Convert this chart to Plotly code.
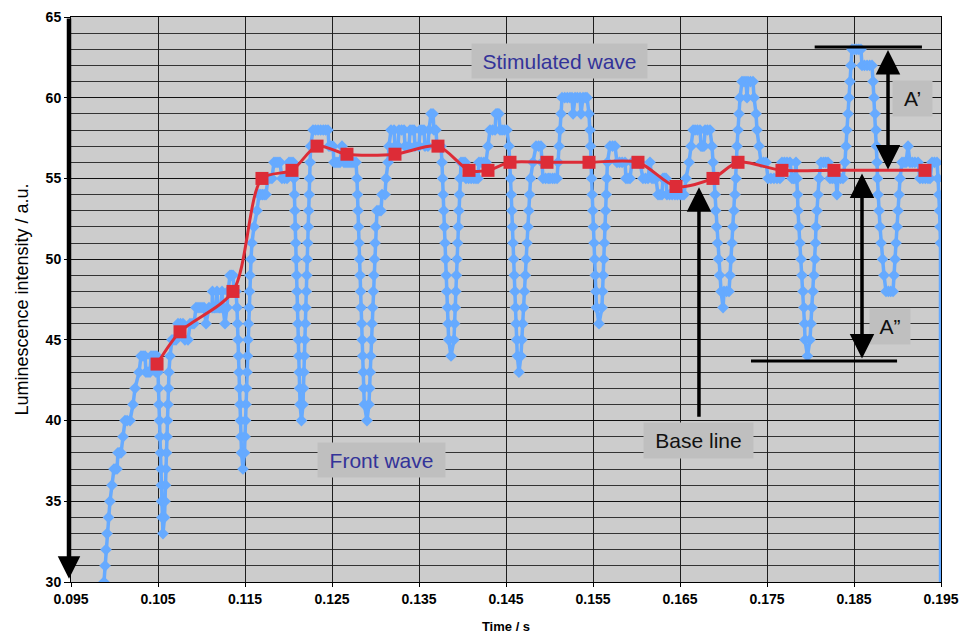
import plotly.graph_objects as go

# Luminescence trace, one (time in ms, intensity in a.u.) pair per sample
trace_points = [
    (98.79, 30), (98.91, 31), (99.02, 32), (99.14, 33), (99.31, 34), (99.48, 35), (99.71, 36),
    (99.94, 37), (100.12, 37), (100.29, 37), (100.40, 38), (100.58, 38), (100.75, 38), (100.98, 39),
    (101.21, 40), (101.45, 40), (101.78, 40), (102.13, 41), (102.36, 42), (102.82, 43), (103.05, 44),
    (103.28, 44), (103.51, 44), (103.62, 43), (103.85, 43), (104.08, 43), (104.20, 44), (104.43, 44),
    (104.66, 44), (104.77, 43), (104.89, 44), (105.00, 43),
    (105.06, 42), (105.11, 41), (105.17, 40), (105.23, 39), (105.29, 38), (105.34, 37), (105.38, 36),
    (105.41, 35), (105.46, 34), (105.57, 33),
    (105.75, 34), (105.80, 35), (105.86, 36), (105.92, 37), (105.98, 38), (106.03, 39), (106.09, 40),
    (106.15, 41), (106.21, 42), (106.26, 43), (106.38, 44), (106.61, 45),
    (106.84, 45), (107.07, 45), (107.30, 46), (107.58, 46), (107.87, 46), (108.10, 45), (108.45, 45),
    (108.68, 46), (108.91, 46), (109.14, 46), (109.37, 47), (109.60, 47), (109.83, 47), (110.06, 47),
    (110.29, 47), (110.52, 46), (110.86, 47), (111.21, 47), (111.26, 48), (111.32, 47), (111.50, 47),
    (111.67, 47), (111.78, 48), (111.90, 47), (112.07, 47), (112.24, 47), (112.36, 48), (112.47, 47),
    (112.70, 46), (112.93, 47), (113.05, 48), (113.28, 49), (113.45, 49), (113.62, 49), (113.74, 48),
    (113.97, 48),
    (114.08, 47), (114.14, 46), (114.20, 45), (114.25, 44), (114.31, 43), (114.37, 42), (114.43, 41),
    (114.48, 40), (114.54, 39), (114.60, 38), (114.77, 37),
    (114.94, 38), (115.00, 39), (115.06, 40), (115.11, 41), (115.17, 42), (115.23, 43), (115.29, 44),
    (115.34, 45), (115.40, 46), (115.46, 47), (115.52, 48), (115.57, 49), (115.69, 50), (115.80, 51),
    (116.03, 52), (116.38, 53), (116.61, 54), (116.81, 54), (117.01, 54), (117.21, 54), (117.41, 54),
    (117.64, 55), (117.87, 55), (118.10, 55), (118.33, 56), (118.56, 56), (118.79, 56), (119.02, 56),
    (119.25, 55), (119.54, 55), (119.83, 55), (120.06, 56), (120.29, 56), (120.52, 56),
    (120.63, 55), (120.68, 54), (120.73, 53), (120.78, 52), (120.83, 51), (120.88, 50), (120.93, 49),
    (120.98, 48), (121.03, 47), (121.08, 46), (121.13, 45), (121.18, 44), (121.23, 43), (121.28, 42),
    (121.33, 41), (121.49, 40),
    (121.67, 41), (121.72, 42), (121.77, 43), (121.83, 44), (121.88, 45), (121.94, 46), (121.99, 47),
    (122.05, 48), (122.10, 49), (122.16, 50), (122.21, 51), (122.27, 52), (122.32, 53), (122.38, 54),
    (122.43, 55), (122.49, 56), (122.54, 57),
    (122.82, 58), (123.10, 58), (123.40, 58), (123.70, 58), (124.00, 58), (124.27, 58), (124.54, 58),
    (124.66, 57), (124.88, 57), (125.11, 57), (125.23, 56), (125.46, 56), (125.69, 56), (125.92, 56),
    (126.15, 57), (126.38, 56), (126.61, 56), (126.84, 56), (127.07, 56), (127.30, 56), (127.53, 56),
    (127.76, 56),
    (127.87, 55), (127.93, 54), (127.99, 53), (128.05, 52), (128.11, 51), (128.17, 50), (128.23, 49),
    (128.29, 48), (128.35, 47), (128.41, 46), (128.47, 45), (128.53, 44), (128.59, 43), (128.65, 42),
    (128.71, 41), (129.02, 40),
    (129.25, 41), (129.32, 42), (129.39, 43), (129.46, 44), (129.53, 45), (129.60, 46), (129.67, 47),
    (129.74, 48), (129.81, 49), (129.88, 50), (129.95, 51), (130.02, 52), (130.17, 53), (130.40, 53),
    (130.63, 53), (130.75, 54), (131.09, 54), (131.21, 55), (131.44, 56), (131.55, 57), (131.78, 58),
    (132.13, 58), (132.24, 57), (132.59, 57), (132.70, 58), (133.00, 58), (133.28, 58), (133.40, 57),
    (133.85, 57), (133.97, 58), (134.20, 58), (134.43, 58), (134.54, 57), (135.00, 57), (135.11, 58),
    (135.34, 58), (135.57, 58), (135.69, 57), (136.03, 57), (136.15, 58), (136.38, 59), (136.61, 59),
    (136.72, 58), (136.95, 58), (137.07, 57), (137.30, 57), (137.53, 57),
    (137.64, 56), (137.71, 55), (137.78, 54), (137.85, 53), (137.92, 52), (137.99, 51), (138.06, 50),
    (138.13, 49), (138.20, 48), (138.27, 47), (138.34, 46), (138.41, 45), (138.68, 44),
    (139.02, 45), (139.09, 46), (139.16, 47), (139.23, 48), (139.30, 49), (139.37, 50), (139.44, 51),
    (139.51, 52), (139.58, 53), (139.65, 54), (139.72, 55), (139.83, 56), (140.06, 56), (140.29, 56),
    (140.40, 55), (140.70, 55), (141.00, 55), (141.30, 55), (141.55, 55), (141.78, 55), (141.89, 56),
    (142.15, 56), (142.45, 56), (142.70, 56), (142.93, 57), (143.16, 58), (143.45, 58), (143.74, 58),
    (143.85, 59), (144.02, 59), (144.19, 59), (144.31, 58), (144.55, 58), (144.80, 58), (145.11, 58),
    (145.34, 57),
    (145.46, 56), (145.53, 55), (145.60, 54), (145.67, 53), (145.74, 52), (145.81, 51), (145.88, 50),
    (145.95, 49), (146.02, 48), (146.09, 47), (146.16, 46), (146.23, 45), (146.30, 44), (146.49, 43),
    (146.72, 44), (146.82, 45), (146.92, 46), (147.02, 47), (147.12, 48), (147.22, 49), (147.32, 50),
    (147.42, 51), (147.52, 52), (147.62, 53), (147.72, 54), (147.82, 55), (148.10, 56), (148.45, 57),
    (148.75, 57), (149.02, 57), (149.14, 56), (149.25, 55), (149.55, 55), (149.85, 55), (150.06, 55),
    (150.35, 55), (150.60, 55), (150.87, 55), (150.98, 56), (151.10, 57), (151.21, 58), (151.33, 59),
    (151.44, 60), (151.75, 60), (152.05, 60), (152.35, 60), (152.59, 60), (152.71, 59), (152.94, 60),
    (153.20, 60), (153.51, 60), (153.62, 59), (153.85, 60), (154.10, 60), (154.31, 60), (154.54, 59),
    (154.66, 58), (154.72, 57),
    (154.77, 56), (154.84, 55), (154.91, 54), (154.98, 53), (155.05, 52), (155.12, 51), (155.19, 50),
    (155.26, 49), (155.33, 48), (155.40, 47), (155.69, 46),
    (156.03, 47), (156.10, 48), (156.17, 49), (156.24, 50), (156.31, 51), (156.38, 52), (156.45, 53),
    (156.52, 54), (156.59, 55), (156.66, 56), (156.95, 57), (157.25, 57), (157.53, 57), (157.76, 56),
    (158.05, 56), (158.35, 56), (158.68, 56), (158.79, 55), (159.02, 55), (159.25, 55), (159.48, 56),
    (159.75, 56), (160.05, 56), (160.40, 56), (160.74, 55), (161.03, 55), (161.32, 55), (161.55, 56),
    (161.78, 55), (162.01, 55), (162.24, 55), (162.47, 54), (162.70, 54), (162.93, 54), (163.04, 55),
    (163.22, 55), (163.39, 55), (163.50, 54), (163.80, 54), (164.10, 54), (164.42, 54), (164.70, 54),
    (165.00, 54), (165.23, 54), (165.46, 54), (165.69, 55), (166.04, 56), (166.27, 57), (166.50, 58),
    (166.73, 58), (167.00, 58), (167.30, 58), (167.42, 57), (167.60, 57), (167.76, 57), (167.88, 58),
    (168.15, 58), (168.45, 58), (168.68, 57),
    (168.80, 56), (168.91, 55), (169.03, 54), (169.09, 53), (169.20, 52), (169.32, 51), (169.43, 50),
    (169.55, 49), (169.72, 48), (169.95, 47), (170.06, 48), (170.35, 48), (170.63, 48),
    (170.75, 49), (170.86, 50), (170.98, 51), (171.09, 52), (171.21, 53), (171.32, 54), (171.44, 55),
    (171.49, 56), (171.55, 57), (171.67, 58), (171.78, 59), (171.90, 60), (172.13, 61), (172.36, 61),
    (172.59, 61), (172.70, 60), (172.82, 61), (173.10, 61), (173.39, 61), (173.51, 60), (173.74, 59),
    (173.85, 58), (174.08, 57), (174.31, 56), (174.60, 56), (174.89, 56), (175.12, 55), (175.45, 55),
    (175.80, 55), (176.15, 55), (176.49, 55), (176.72, 56), (177.00, 56), (177.30, 56), (177.64, 56),
    (177.87, 55), (178.05, 55), (178.22, 55), (178.33, 56),
    (178.45, 55), (178.51, 54), (178.56, 53), (178.68, 52), (178.79, 51), (178.91, 50), (179.02, 49),
    (179.14, 48), (179.25, 47), (179.31, 46), (179.37, 45), (179.65, 44),
    (179.94, 45), (180.06, 46), (180.17, 47), (180.29, 48), (180.40, 49), (180.52, 50), (180.57, 51),
    (180.63, 52), (180.75, 53), (180.86, 54), (180.98, 55), (181.21, 56), (181.50, 56), (181.75, 56),
    (182.01, 56), (182.24, 55), (182.50, 55), (182.75, 55), (182.93, 55), (183.04, 54), (183.16, 55),
    (183.45, 55), (183.73, 55), (183.96, 56), (184.08, 57), (184.19, 58), (184.31, 59), (184.42, 60),
    (184.54, 61), (184.65, 62), (184.77, 63), (185.05, 63), (185.30, 63), (185.55, 63), (185.80, 63),
    (185.92, 62), (186.20, 62), (186.50, 62), (186.80, 62), (187.07, 62), (187.19, 61), (187.30, 60),
    (187.42, 59), (187.53, 58), (187.59, 57), (187.65, 56), (187.70, 55), (187.76, 54), (187.88, 53),
    (187.99, 52), (188.11, 51), (188.28, 50), (188.45, 49), (188.68, 48), (188.95, 48), (189.22, 48),
    (189.49, 48), (189.60, 49), (189.72, 50), (189.83, 51), (189.95, 52), (190.06, 53), (190.18, 54),
    (190.29, 55), (190.52, 56), (190.75, 56), (190.98, 56), (191.21, 57), (191.44, 56), (191.70, 56),
    (192.00, 56), (192.36, 56), (192.59, 55), (192.90, 55), (193.20, 55), (193.50, 55), (193.74, 55),
    (193.97, 56), (194.25, 56), (194.54, 56), (194.66, 55), (194.77, 54), (194.83, 53), (194.89, 52),
    (194.94, 51), (194.96, 0),
]

# Base line drawn through the trace (time in ms, intensity in a.u.)
baseline_ms = [104.89, 107.53, 113.62, 116.95, 120.40, 123.28, 126.72, 132.24, 137.18, 140.75,
               142.93, 145.46, 149.71, 154.54, 160.17, 164.54, 168.79, 171.67, 176.72, 182.70,
               193.16]
baseline_val = [43.5, 45.5, 48, 55, 55.5, 57, 56.5, 56.5, 57, 55.5,
                55.5, 56, 56, 56, 56, 54.5, 55, 56, 55.5, 55.5,
                55.5]

x_tick_vals = [0.095, 0.105, 0.115, 0.125, 0.135, 0.145, 0.155, 0.165, 0.175, 0.185, 0.195]
x_tick_text = ["0.095", "0.105", "0.115", "0.125", "0.135", "0.145", "0.155", "0.165",
               "0.175", "0.185", "0.195"]
y_tick_vals = [30, 35, 40, 45, 50, 55, 60, 65]

trace_t = [p[0] / 1000 for p in trace_points]
trace_v = [p[1] for p in trace_points]
base_t = [t / 1000 for t in baseline_ms]

BLUE = "#66AAFF"
RED = "#DD2C37"
FONT = "Liberation Sans, Arial, Helvetica, sans-serif"

fig = go.Figure()
fig.add_trace(go.Scatter(
    x=trace_t, y=trace_v, mode="lines+markers",
    line=dict(color=BLUE, width=3.5),
    marker=dict(symbol="diamond", size=9, color=BLUE),
    hoverinfo="skip",
))
fig.add_trace(go.Scatter(
    x=base_t, y=baseline_val, mode="lines+markers",
    line=dict(color=RED, width=3, shape="spline", smoothing=0.8),
    marker=dict(symbol="square", size=13, color=RED),
    hoverinfo="skip",
))

annotations = []


def label(x, y, text, w, h, color):
    annotations.append(dict(
        x=x, y=y, xref="x", yref="y", text=text, showarrow=False,
        font=dict(family=FONT, size=21, color=color),
        bgcolor="#BFBFBF", borderpad=0, width=w, height=h,
    ))


label(0.15115, 62.27, "Stimulated wave", 175, 34, "#333399")
label(0.13069, 37.55, "Front wave", 127, 34, "#333399")
label(0.16713, 38.76, "Base line", 109, 35, "#111111")
label(0.19172, 59.95, "A’", 39, 35, "#111111")
label(0.18914, 45.85, "A”", 40, 35, "#111111")


def arrow(x, y, ax, ay, both=False, width=3.5, size=1.4, xshift=0):
    annotations.append(dict(
        x=x, y=y, ax=ax, ay=ay, xref="x", yref="y", axref="x", ayref="y",
        text="", showarrow=True, arrowcolor="black", arrowwidth=width,
        arrowhead=2, arrowsize=size, startarrowhead=2, startarrowsize=size,
        arrowside="end+start" if both else "end", xshift=xshift,
    ))


arrow(0.095, 30.2, 0.095, 65, width=4.5, size=1.0, xshift=-2)   # left axis arrow
arrow(0.18891, 55.55, 0.18891, 63.05, both=True)                 # A'
arrow(0.18592, 43.85, 0.18592, 55.4, both=True)                  # A"
arrow(0.16718, 54.45, 0.16718, 40.15)                            # base line pointer

shapes = [
    dict(type="line", xref="x", yref="y", x0=0.18048, x1=0.19281, y0=63.14, y1=63.14,
         line=dict(color="black", width=3)),
    dict(type="line", xref="x", yref="y", x0=0.17316, x1=0.18995, y0=43.69, y1=43.69,
         line=dict(color="black", width=3)),
]

fig.update_layout(
    width=961, height=637,
    margin=dict(l=71, r=20, t=17, b=55, autoexpand=False),
    plot_bgcolor="#CCCCCC", paper_bgcolor="white",
    showlegend=False,
    font=dict(family=FONT, color="black"),
    annotations=annotations, shapes=shapes,
)
fig.update_xaxes(
    range=[0.095, 0.195], tickmode="array", tickvals=x_tick_vals, ticktext=x_tick_text,
    automargin=False,
    showgrid=True, gridcolor="#1E1E1E", gridwidth=1, zeroline=False,
    ticks="outside", ticklen=4, tickcolor="black",
    showline=True, linecolor="black", linewidth=1, mirror=True,
    tickfont=dict(family=FONT, size=14, color="black", weight="bold"),
    title=dict(text="Time / s", font=dict(family=FONT, size=13, color="black", weight="bold"),
               standoff=16),
)
fig.update_yaxes(
    range=[30, 65], tickmode="array", tickvals=y_tick_vals,
    automargin=False,
    showgrid=True, gridcolor="#111111", gridwidth=1, zeroline=False,
    ticks="outside", ticklen=6, tickcolor="black",
    minor=dict(tick0=30, dtick=1, showgrid=True, gridcolor="#333333", gridwidth=1,
               ticks="outside", ticklen=3, tickcolor="black"),
    showline=True, linecolor="black", linewidth=1, mirror=True,
    tickfont=dict(family=FONT, size=14, color="black", weight="bold"),
    title=dict(text="Luminescence intensity / a.u.", font=dict(family=FONT, size=18, color="black"),
               standoff=12),
)

fig.write_html("out.html")
